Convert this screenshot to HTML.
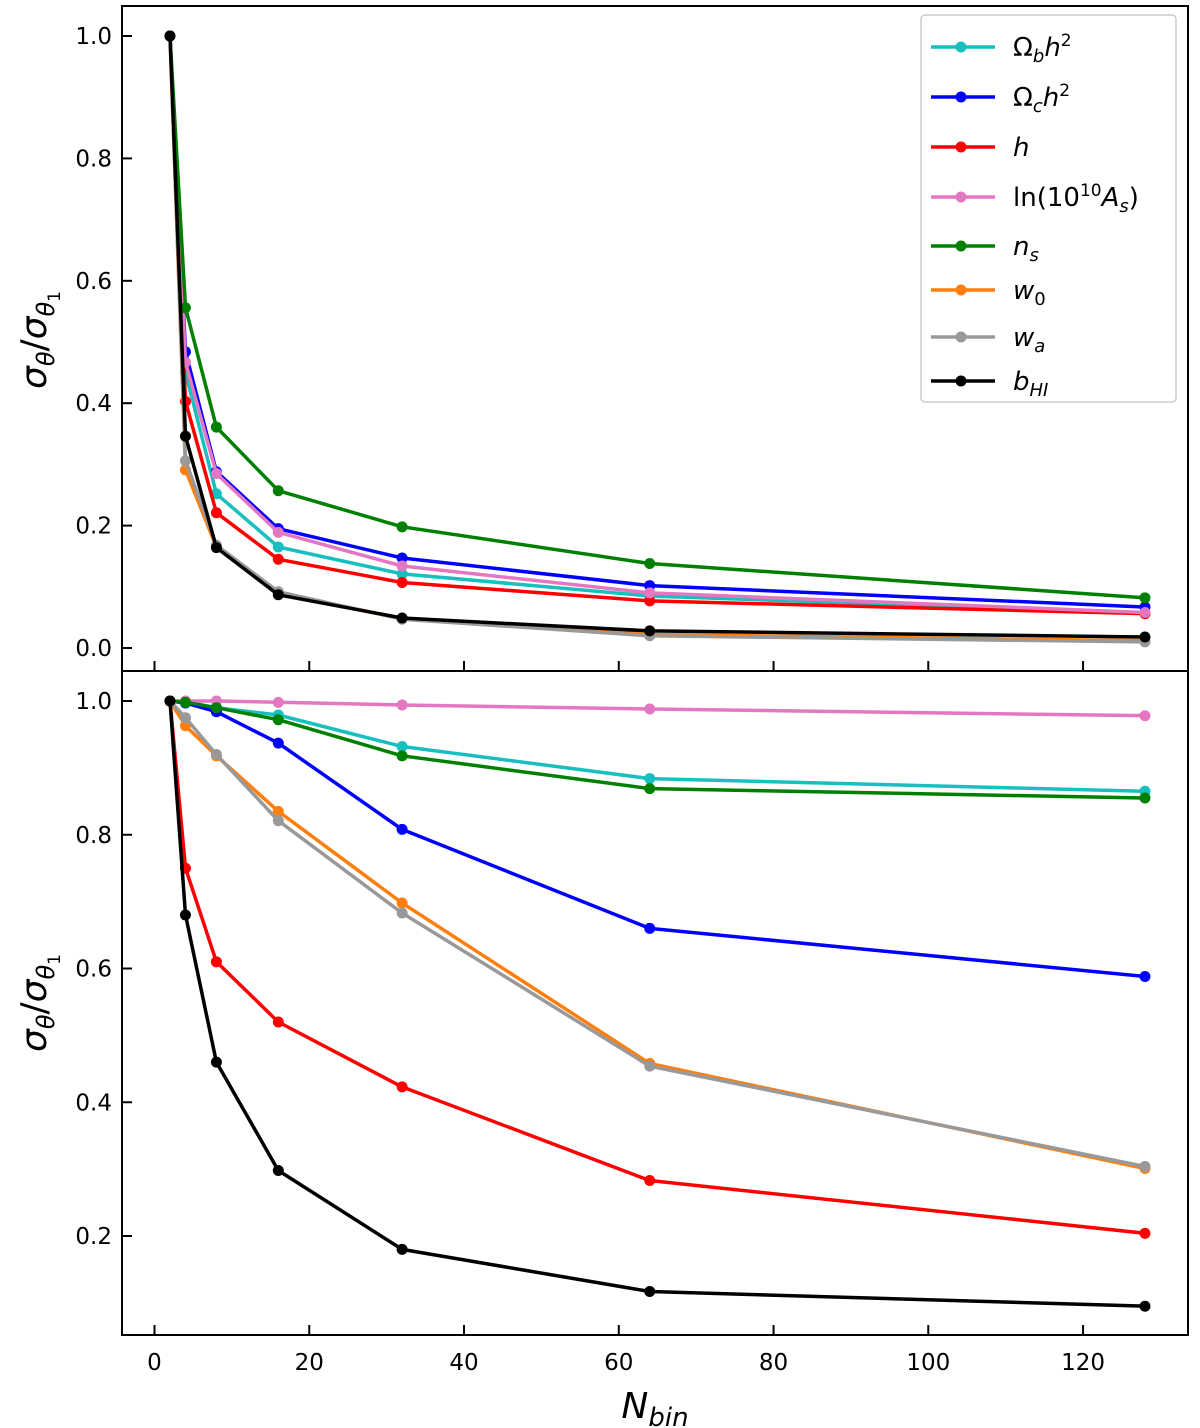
<!DOCTYPE html>
<html><head><meta charset="utf-8"><style>
body{margin:0;background:#fff}
svg{display:block;font-family:"DejaVu Sans","Liberation Sans",sans-serif}
</style></head><body>
<svg id="chart" width="1200" height="1428" viewBox="0 0 1200 1428" xmlns="http://www.w3.org/2000/svg"></svg>
<script>
const nbins = [2,4,8,16,32,64,128];
const seriesNames = ["Ob","Oc","h","lnAs","ns","w0","wa","bHI"];
const seriesColors = ["#17bfbf","#0000ff","#ff0000","#e377c2","#008000","#ff7f0e","#999999","#000000"];
const topOb   = [1,0.45,0.252,0.165,0.121,0.085,0.057];
const topOc   = [1,0.484,0.288,0.195,0.147,0.102,0.067];
const topH    = [1,0.403,0.221,0.145,0.107,0.077,0.056];
const topLn   = [1,0.467,0.285,0.189,0.134,0.09,0.058];
const topNs   = [1,0.556,0.361,0.257,0.198,0.138,0.082];
const topW0   = [1,0.291,0.165,0.09,0.048,0.022,0.012];
const topWa   = [1,0.306,0.168,0.092,0.047,0.02,0.01];
const topB    = [1,0.346,0.164,0.087,0.049,0.028,0.018];
const botOb   = [1,0.999,0.99,0.979,0.932,0.884,0.865];
const botOc   = [1,0.997,0.984,0.937,0.808,0.66,0.588];
const botH    = [1,0.75,0.61,0.52,0.423,0.283,0.204];
const botLn   = [1,1.0,1.0,0.998,0.994,0.988,0.978];
const botNs   = [1,0.998,0.99,0.972,0.918,0.869,0.855];
const botW0   = [1,0.963,0.918,0.835,0.698,0.458,0.301];
const botWa   = [1,0.975,0.92,0.821,0.683,0.454,0.304];
const botB    = [1,0.68,0.46,0.298,0.18,0.117,0.095];
const xTicks = [0,20,40,60,80,100,120];
const topYTicks = [0.0,0.2,0.4,0.6,0.8,1.0];
const botYTicks = [0.2,0.4,0.6,0.8,1.0];

const NS="http://www.w3.org/2000/svg";
const svg=document.getElementById('chart');
function mk(tag,attrs,parent){const e=document.createElementNS(NS,tag);for(const k in attrs)e.setAttribute(k,attrs[k]);(parent||svg).appendChild(e);return e;}
const L=122,R=1188,T=6,MID=671,B=1335;
const xs=v=>154.5+v*7.738;
const yTop=v=>648-v*612;
const yBot=v=>701+(1-v)*668.75;

function panel(name,data,ys,yt,top){
  const g=mk('g',{});
  
  
  data.forEach((arr,i)=>{
    const s=mk('g',{},g);
    
    
    const pts=arr.map((v,j)=>xs(nbins[j]).toFixed(1)+','+ys(v).toFixed(1)).join(' ');
    const pl=mk('polyline',{points:pts,fill:'none',stroke:seriesColors[i],'stroke-width':3.5,'stroke-linejoin':'round'},s);
    
    
    arr.forEach((v,j)=>{
      const c=mk('circle',{cx:xs(nbins[j]),cy:ys(v),r:5.5,fill:seriesColors[i]},s);
      
      
    });
  });
  yt.forEach(v=>{
    const y=ys(v);
    mk('line',{x1:L,x2:L+10,y1:y,y2:y,stroke:'#000','stroke-width':2},g);
    const t=mk('text',{x:L-10,y:y+8,'text-anchor':'end','font-size':23},g);
    t.textContent=v.toFixed(1);
    
    
  });
  const by= top?MID:B;
  xTicks.forEach(v=>{
    mk('line',{x1:xs(v),x2:xs(v),y1:by,y2:by-10,stroke:'#000','stroke-width':2},g);
  });
}
panel('top',[topOb,topOc,topH,topLn,topNs,topW0,topWa,topB],yTop,topYTicks,true);
panel('bottom',[botOb,botOc,botH,botLn,botNs,botW0,botWa,botB],yBot,botYTicks,false);

const f1=mk('rect',{x:L,y:T,width:R-L,height:MID-T,fill:'none',stroke:'#000','stroke-width':2});

const f2=mk('rect',{x:L,y:MID,width:R-L,height:B-MID,fill:'none',stroke:'#000','stroke-width':2});


xTicks.forEach(v=>{
  const t=mk('text',{x:xs(v),y:1370,'text-anchor':'middle','font-size':23});
  t.textContent=v;
  
  
});

// legend
const lg=mk('g',{});


mk('rect',{x:921,y:15,width:255,height:387,rx:4,fill:'#fff',stroke:'#ccc','stroke-width':1.5},lg);
const labels=[
 'Ω<tspan font-style="italic" font-size="18" dy="6">b</tspan><tspan font-style="italic" dy="-6">h</tspan><tspan font-size="17" dy="-10">2</tspan>',
 'Ω<tspan font-style="italic" font-size="18" dy="6">c</tspan><tspan font-style="italic" dy="-6">h</tspan><tspan font-size="17" dy="-10">2</tspan>',
 '<tspan font-style="italic">h</tspan>',
 'ln(10<tspan font-size="17" dy="-10">10</tspan><tspan font-style="italic" dy="10">A</tspan><tspan font-style="italic" font-size="18" dy="6">s</tspan><tspan dy="-6">)</tspan>',
 '<tspan font-style="italic">n</tspan><tspan font-style="italic" font-size="18" dy="6">s</tspan>',
 '<tspan font-style="italic">w</tspan><tspan font-size="18" dy="6">0</tspan>',
 '<tspan font-style="italic">w</tspan><tspan font-style="italic" font-size="18" dy="6">a</tspan>',
 '<tspan font-style="italic">b</tspan><tspan font-style="italic" font-size="18" dy="6">HI</tspan>'];
const ly=[47,97,147,197,246,290,337,381];
labels.forEach((lab,i)=>{
  const e=mk('g',{},lg);
  
  
  mk('line',{x1:931,x2:995,y1:ly[i],y2:ly[i],stroke:seriesColors[i],'stroke-width':3.5},e);
  mk('circle',{cx:961,cy:ly[i],r:5.5,fill:seriesColors[i]},e);
  const t=mk('text',{x:1013,y:ly[i]+9,'font-size':26},e);
  t.innerHTML=lab;
});

function ytitle(cy,name){
  const t=mk('text',{x:0,y:0,'font-size':36,'text-anchor':'middle',transform:`translate(46,${cy}) rotate(-90)`});
  t.innerHTML='<tspan font-style="italic">σ</tspan><tspan font-style="italic" font-size="24" dy="8">θ</tspan><tspan dy="-8">/</tspan><tspan font-style="italic">σ</tspan><tspan font-style="italic" font-size="24" dy="8">θ</tspan><tspan font-size="17" dy="6">1</tspan>';
  
  
}
ytitle(340,'top-y-axis-title');
ytitle(1003,'bottom-y-axis-title');
const xt=mk('text',{x:655,y:1418,'font-size':36,'text-anchor':'middle'});
xt.innerHTML='<tspan font-style="italic">N</tspan><tspan font-style="italic" font-size="26" dy="8">bin</tspan>';


</script>
</body></html>
